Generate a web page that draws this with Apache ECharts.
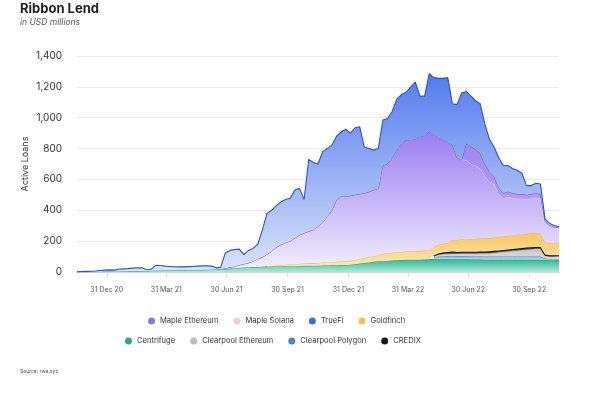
<!DOCTYPE html>
<html>
<head>
<meta charset="utf-8">
<script src="https://cdn.jsdelivr.net/npm/echarts@6/dist/echarts.min.js"></script>
<style>
html,body{margin:0;padding:0;background:#fff;}
#c{width:600px;height:404px;}
</style>
</head>
<body>
<div id="c"></div>
<script>
// ---- data (USD millions, weekly samples) ----
var dates = [
'2020-11-16','2020-11-23','2020-11-30','2020-12-07','2020-12-14','2020-12-21','2020-12-28',
'2021-01-04','2021-01-11','2021-01-18','2021-01-25','2021-02-01','2021-02-08','2021-02-15','2021-02-22',
'2021-03-01','2021-03-08','2021-03-15','2021-03-22','2021-03-29','2021-04-05','2021-04-12','2021-04-19','2021-04-26',
'2021-05-03','2021-05-10','2021-05-17','2021-05-24','2021-05-31','2021-06-07','2021-06-14','2021-06-21','2021-06-28',
'2021-07-05','2021-07-12','2021-07-19','2021-07-26','2021-08-02','2021-08-09','2021-08-16','2021-08-23','2021-08-30',
'2021-09-06','2021-09-13','2021-09-20','2021-09-27','2021-10-04','2021-10-11','2021-10-18','2021-10-25',
'2021-11-01','2021-11-08','2021-11-15','2021-11-22','2021-11-29','2021-12-06','2021-12-13','2021-12-20','2021-12-27',
'2022-01-03','2022-01-10','2022-01-17','2022-01-24','2022-01-31','2022-02-07','2022-02-14','2022-02-21','2022-02-28',
'2022-03-07','2022-03-14','2022-03-21','2022-03-28','2022-04-04','2022-04-11','2022-04-18','2022-04-25',
'2022-05-02','2022-05-09','2022-05-16','2022-05-23','2022-05-30','2022-06-06','2022-06-13','2022-06-20','2022-06-27',
'2022-07-04','2022-07-11','2022-07-18','2022-07-25','2022-08-01','2022-08-08','2022-08-15','2022-08-22','2022-08-29',
'2022-09-05','2022-09-12','2022-09-19','2022-09-26','2022-10-03','2022-10-10','2022-10-17','2022-10-24','2022-10-31',
'2022-11-07','2022-11-14'
];
var _ = null;
var centrifuge = [
0,0,1,1,2,2,3,3,4,4,
5,5,6,6,7,7,8,8,9,9,
10,10,11,11,12,12,13,14,15,16,
17,18,19,22,25,27,29,31,32,33,
34,35,35,36,36,37,38,38,39,40,
40,41,41,42,42,43,44,45,46,47,
50,55,58,62,66,69,70,72,74,76,
78,79,80,80,80,81,82,82,82,82,
82,82,82,82,82,81,81,81,80,80,
80,80,80,80,80,80,80,80,79,79,
79,77,76,76,76];
var clearpoolPolygon = [
_,_,_,_,_,_,_,_,_,_, _,_,_,_,_,_,_,_,_,_, _,_,_,_,_,_,_,_,_,_,
_,_,_,_,_,_,_,_,_,_, _,_,_,_,_,_,_,_,_,_, _,_,_,_,_,_,_,_,_,_,
_,_,_,_,_,_,_,_,_,_, _,_,_,_,_,_,_,
12,18,20,21,22,21,21,21,21,21,21,21,21,21,21,21,21,21,21,21,21,21,21,21,10,9,9,9];
var clearpoolEthereum = [
_,_,_,_,_,_,_,_,_,_, _,_,_,_,_,_,_,_,_,_, _,_,_,_,_,_,_,_,_,_,
_,_,_,_,_,_,_,_,_,_, _,_,_,_,_,_,_,_,_,_, _,_,_,_,_,_,_,_,_,_,
_,_,_,_,_,_,_,_,_,_, _,_,_,_,_,_,_,
8,12,14,15,15,16,17,17,18,18,19,20,21,24,27,30,33,36,39,42,45,48,50,50,18,16,16,16];
var credix = [
_,_,_,_,_,_,_,_,_,_, _,_,_,_,_,_,_,_,_,_, _,_,_,_,_,_,_,_,_,_,
_,_,_,_,_,_,_,_,_,_, _,_,_,_,_,_,_,_,_,_, _,_,_,_,_,_,_,_,_,_,
_,_,_,_,_,_,_,_,_,_, _,_,_,_,_,_,_,
5,8,10,12,14,10,12,12,12,12,12,12,12,12,12,12,12,12,12,12,12,12,12,12,8,7,7,7];
var goldfinch = [
_,_,_,_,_,_,_,_,_,_, _,_,_,_,_,_,_,_,_,_, _,_,_,_,_,_,_,_,_,_,
_,_,_,_,_,_,_,_,_,_, _,
2,4,6,8,10,12,13,14,15,16,17,18,19,20,21,22,23,24,26,28,30,32,34,36,40,
48,50,51,52,53,54,55,56,57,58,58,55,57,58,60,75,78,80,81,82,83,84,85,86,87,
88,88,89,90,90,90,90,92,92,88,80,78,78,78];
var mapleEthereum = [
_,_,_,_,_,_,_,_,_,_, _,_,_,_,_,_,_,_,_,_, _,_,_,_,_,_,_,_,_,_, _,
2,6,8,11,18,23,27,38,52,61,78,96,118,132,143,150,169,187,197,207,216,236,259,298,336,
402,422,420,421,422,420,421,424,430,431,572,581,615,662,699,722,721,724,740,741,770,
728,693,672,650,615,530,518,511,488,475,453,402,365,346,277,244,251,240,233,230,224,
225,228,227,125,107,97,89];
var mapleSolana = [
_,_,_,_,_,_,_,_,_,_, _,_,_,_,_,_,_,_,_,_, _,_,_,_,_,_,_,_,_,_, _,
0,0,0,0,0,0,0,0,0,0, 0,0,0,0,0,0,0,0,0,0, 0,0,0,0,0,0,0,0,0,0,
0,0,0,0,0,0,0,0,0,0, 0,0,0,0,0,0,0,0,0,0, 0,0,0,
110,110,105,100,80,65,50,40,35,35,32,30,30,28,28,28,28,12,12,10,10];
var trueFi = [
2,3,3,4,4,8,9,11,8,14,
15,17,19,22,20,8,10,35,33,29,
26,24,22,22,23,24,25,26,25,22,
10,10,98,110,109,103,60,82,83,95,
178,265,265,270,279,280,278,311,302,218,
467,436,405,460,440,422,412,418,435,406,
435,436,299,280,258,260,295,292,300,330,
320,310,344,370,263,260,375,370,385,399,
420,267,348,430,336,328,315,320,260,210,
190,195,180,169,159,155,135,60,55,65,
65,12,10,8,8];
var xTickDates = ['2020-12-31','2021-03-31','2021-06-30','2021-09-30','2021-12-31','2022-03-31','2022-06-30','2022-09-30'];
var yTicks = [0,200,400,600,800,1000,1200,1400];
var legendRow1 = ['Maple Ethereum','Maple Solana','TrueFi','Goldfinch'];
var legendRow2 = ['Centrifuge','Clearpool Ethereum','Clearpool Polygon','CREDIX'];

// ---- helpers ----
function ts(s){var p=s.split('-');return new Date(+p[0],+p[1]-1,+p[2]).getTime();}
var MON=['Jan','Feb','Mar','Apr','May','Jun','Jul','Aug','Sep','Oct','Nov','Dec'];
function fmtDate(v){var d=new Date(v);return d.getDate()+' '+MON[d.getMonth()]+' '+String(d.getFullYear()).slice(2);}
function grad(top,bottom){return new echarts.graphic.LinearGradient(0,0,0,1,[{offset:0,color:top},{offset:1,color:bottom}]);}

var legendColors = {
 'Maple Ethereum':'#8f75e3','Maple Solana':'#f2cadb','TrueFi':'#3e6bd8','Goldfinch':'#f2c15a',
 'Centrifuge':'#2aa98a','Clearpool Ethereum':'#bdbdbd','Clearpool Polygon':'#4f87b3','CREDIX':'#1a1a1a'
};
function legendData(names){return names.map(function(n){return {name:n,itemStyle:{color:legendColors[n]}};});}

function areaSeries(name, arr, lineColor, lineWidth, fill, z){
  return {
    name:name, type:'line', stack:'total', xAxisIndex:0, data:arr, symbol:'none', showSymbol:false,
    lineStyle:{color:lineColor,width:lineWidth}, itemStyle:{color:legendColors[name]},
    areaStyle:{color:fill,opacity:1}, emphasis:{disabled:true}, z:z, animation:false
  };
}

var xTickValues = xTickDates.map(ts);
var chart = echarts.init(document.getElementById('c'), null, {renderer:'canvas'});
var FONT = 'Inter, Roboto, "Noto Sans", sans-serif';
var legendBase = {icon:'circle', itemWidth:7, itemHeight:7, itemGap:15,
  textStyle:{fontSize:7.6, color:'#333', fontFamily:FONT}, selectedMode:false};
chart.setOption({
  backgroundColor:'#ffffff',
  textStyle:{fontFamily:FONT},
  animation:false,
  title:{
    text:'Ribbon Lend', subtext:'in USD millions', left:15, top:-2, itemGap:2,
    textStyle:{fontSize:13, fontWeight:'bold', color:'#1e1e1e', fontFamily:FONT},
    subtextStyle:{fontSize:8.5, fontStyle:'italic', color:'#555', fontFamily:FONT}
  },
  graphic:[{type:'text', left:20, top:369, style:{text:'Source: rwa.xyz', fontSize:5, fill:'#444', fontFamily:FONT}}],
  legend:[
    Object.assign({data:legendData(legendRow1), top:312, left:143}, legendBase),
    Object.assign({data:legendData(legendRow2), top:332, left:120}, legendBase)
  ],
  grid:{left:77, right:41, top:56, bottom:132, containLabel:false},
  xAxis:[
    {type:'category', data:dates, boundaryGap:false, show:false},
    {
      type:'value', min:ts(dates[0]), max:ts(dates[dates.length-1]), position:'bottom',
      axisLine:{show:true, lineStyle:{color:'#d6d6d6'}},
      axisTick:{show:true, length:5, lineStyle:{color:'#dcdcdc'}, customValues:xTickValues},
      axisLabel:{fontSize:7, color:'#555', margin:14, customValues:xTickValues, formatter:function(v){return fmtDate(v);}},
      splitLine:{show:false}
    }
  ],
  yAxis:{
    type:'value', min:yTicks[0], max:yTicks[yTicks.length-1], interval:200,
    name:'Active Loans', nameLocation:'middle', nameGap:47, nameRotate:90, nameMoveOverlap:false,
    nameTextStyle:{fontSize:9, color:'#333', fontFamily:FONT},
    axisLine:{show:false}, axisTick:{show:false},
    axisLabel:{fontSize:10, color:'#333', margin:15, formatter:function(v){return v.toLocaleString('en-US');}},
    splitLine:{lineStyle:{color:'#ebebeb', width:1}}
  },
  series:[
    areaSeries('Centrifuge', centrifuge, '#1f9f80', 1, grad('#2fb896','#ade9d8'), 2),
    areaSeries('Clearpool Polygon', clearpoolPolygon, '#4d86b5', 1, grad('#8ebad9','#b9d6ea'), 3),
    areaSeries('Clearpool Ethereum', clearpoolEthereum, '#a9a9a9', 1, grad('#c6c6c6','#dcdcdc'), 4),
    areaSeries('CREDIX', credix, '#111111', 1.8, '#4a4a4a', 5),
    areaSeries('Goldfinch', goldfinch, '#f3b945', 1, grad('#f8c562','#fde7b5'), 6),
    areaSeries('Maple Ethereum', mapleEthereum, '#f3cfe0', 1, grad('#9a7cf1','#f2eefd'), 7),
    areaSeries('Maple Solana', mapleSolana, '#6a58bf', 1, grad('#9d80f0','#c9bbf6'), 8),
    areaSeries('TrueFi', trueFi, '#2f51c7', 1.1, grad('#537bee','#dce4fb'), 9)
  ]
});
</script>
</body>
</html>
